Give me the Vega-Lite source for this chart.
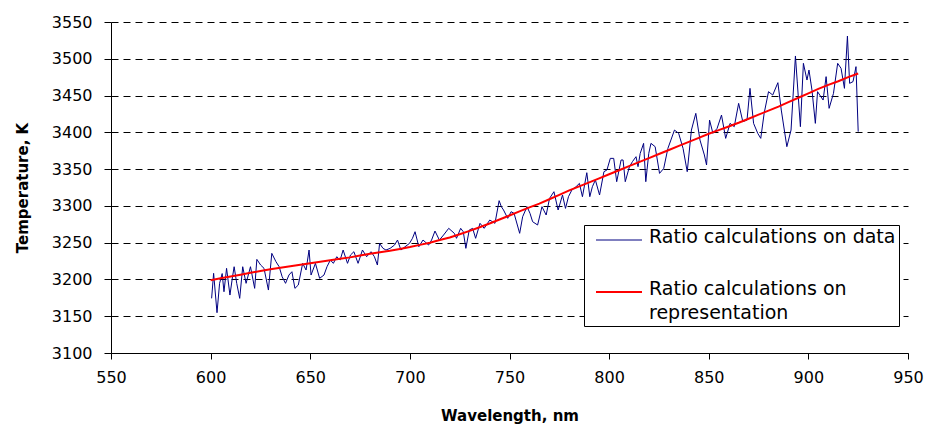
{
  "$schema": "https://vega.github.io/schema/vega-lite/v6.json",
  "width": 797,
  "height": 331,
  "autosize": {"type": "none"},
  "padding": {"left": 111, "top": 22, "right": 21, "bottom": 74},
  "background": "white",
  "config": {"view": {"stroke": null}, "font": "DejaVu Sans"},
  "data": {"values": [
    {"wavelength": 600.5, "temperature": 3174.3, "series": "data"},
    {"wavelength": 601.5, "temperature": 3208.3, "series": "data"},
    {"wavelength": 603.2, "temperature": 3154.8, "series": "data"},
    {"wavelength": 604.5, "temperature": 3194.7, "series": "data"},
    {"wavelength": 605.8, "temperature": 3208.0, "series": "data"},
    {"wavelength": 606.7, "temperature": 3183.3, "series": "data"},
    {"wavelength": 608.0, "temperature": 3215.1, "series": "data"},
    {"wavelength": 609.7, "temperature": 3178.8, "series": "data"},
    {"wavelength": 611.0, "temperature": 3203.7, "series": "data"},
    {"wavelength": 611.8, "temperature": 3217.3, "series": "data"},
    {"wavelength": 613.1, "temperature": 3194.7, "series": "data"},
    {"wavelength": 614.6, "temperature": 3174.3, "series": "data"},
    {"wavelength": 616.1, "temperature": 3217.3, "series": "data"},
    {"wavelength": 617.8, "temperature": 3194.7, "series": "data"},
    {"wavelength": 620.0, "temperature": 3217.3, "series": "data"},
    {"wavelength": 622.1, "temperature": 3187.9, "series": "data"},
    {"wavelength": 623.2, "temperature": 3227.3, "series": "data"},
    {"wavelength": 625.1, "temperature": 3219.6, "series": "data"},
    {"wavelength": 626.8, "temperature": 3215.1, "series": "data"},
    {"wavelength": 629.0, "temperature": 3185.6, "series": "data"},
    {"wavelength": 630.7, "temperature": 3235.5, "series": "data"},
    {"wavelength": 632.8, "temperature": 3224.1, "series": "data"},
    {"wavelength": 634.4, "temperature": 3217.3, "series": "data"},
    {"wavelength": 635.9, "temperature": 3203.7, "series": "data"},
    {"wavelength": 637.6, "temperature": 3194.7, "series": "data"},
    {"wavelength": 639.3, "temperature": 3206.0, "series": "data"},
    {"wavelength": 640.8, "temperature": 3210.5, "series": "data"},
    {"wavelength": 642.3, "temperature": 3187.9, "series": "data"},
    {"wavelength": 644.0, "temperature": 3192.4, "series": "data"},
    {"wavelength": 646.2, "temperature": 3221.9, "series": "data"},
    {"wavelength": 647.9, "temperature": 3212.8, "series": "data"},
    {"wavelength": 649.4, "temperature": 3240.0, "series": "data"},
    {"wavelength": 650.4, "temperature": 3206.0, "series": "data"},
    {"wavelength": 652.6, "temperature": 3221.9, "series": "data"},
    {"wavelength": 654.7, "temperature": 3201.5, "series": "data"},
    {"wavelength": 656.9, "temperature": 3206.0, "series": "data"},
    {"wavelength": 658.4, "temperature": 3217.3, "series": "data"},
    {"wavelength": 660.1, "temperature": 3226.4, "series": "data"},
    {"wavelength": 661.6, "temperature": 3221.9, "series": "data"},
    {"wavelength": 663.3, "temperature": 3230.9, "series": "data"},
    {"wavelength": 665.0, "temperature": 3226.4, "series": "data"},
    {"wavelength": 666.5, "temperature": 3240.0, "series": "data"},
    {"wavelength": 668.7, "temperature": 3221.9, "series": "data"},
    {"wavelength": 670.2, "temperature": 3233.2, "series": "data"},
    {"wavelength": 671.9, "temperature": 3237.7, "series": "data"},
    {"wavelength": 674.0, "temperature": 3221.9, "series": "data"},
    {"wavelength": 676.2, "temperature": 3240.0, "series": "data"},
    {"wavelength": 678.3, "temperature": 3230.9, "series": "data"},
    {"wavelength": 680.5, "temperature": 3237.7, "series": "data"},
    {"wavelength": 682.2, "temperature": 3230.9, "series": "data"},
    {"wavelength": 683.7, "temperature": 3219.6, "series": "data"},
    {"wavelength": 684.8, "temperature": 3249.0, "series": "data"},
    {"wavelength": 686.5, "temperature": 3242.3, "series": "data"},
    {"wavelength": 688.0, "temperature": 3240.0, "series": "data"},
    {"wavelength": 690.1, "temperature": 3242.3, "series": "data"},
    {"wavelength": 692.3, "temperature": 3246.8, "series": "data"},
    {"wavelength": 693.8, "temperature": 3253.6, "series": "data"},
    {"wavelength": 695.5, "temperature": 3240.0, "series": "data"},
    {"wavelength": 697.6, "temperature": 3244.5, "series": "data"},
    {"wavelength": 699.8, "temperature": 3249.0, "series": "data"},
    {"wavelength": 701.3, "temperature": 3255.9, "series": "data"},
    {"wavelength": 702.6, "temperature": 3264.9, "series": "data"},
    {"wavelength": 704.5, "temperature": 3244.5, "series": "data"},
    {"wavelength": 706.6, "temperature": 3253.6, "series": "data"},
    {"wavelength": 709.4, "temperature": 3246.8, "series": "data"},
    {"wavelength": 710.9, "temperature": 3253.6, "series": "data"},
    {"wavelength": 712.6, "temperature": 3265.8, "series": "data"},
    {"wavelength": 714.8, "temperature": 3253.6, "series": "data"},
    {"wavelength": 716.9, "temperature": 3260.4, "series": "data"},
    {"wavelength": 719.5, "temperature": 3269.5, "series": "data"},
    {"wavelength": 722.3, "temperature": 3262.7, "series": "data"},
    {"wavelength": 723.4, "temperature": 3255.9, "series": "data"},
    {"wavelength": 725.5, "temperature": 3269.5, "series": "data"},
    {"wavelength": 726.8, "temperature": 3264.9, "series": "data"},
    {"wavelength": 728.1, "temperature": 3242.3, "series": "data"},
    {"wavelength": 729.8, "temperature": 3267.2, "series": "data"},
    {"wavelength": 731.5, "temperature": 3269.5, "series": "data"},
    {"wavelength": 733.0, "temperature": 3255.9, "series": "data"},
    {"wavelength": 735.2, "temperature": 3276.3, "series": "data"},
    {"wavelength": 737.3, "temperature": 3269.5, "series": "data"},
    {"wavelength": 740.1, "temperature": 3280.8, "series": "data"},
    {"wavelength": 742.7, "temperature": 3276.3, "series": "data"},
    {"wavelength": 744.8, "temperature": 3307.1, "series": "data"},
    {"wavelength": 745.9, "temperature": 3298.9, "series": "data"},
    {"wavelength": 747.0, "temperature": 3294.4, "series": "data"},
    {"wavelength": 749.1, "temperature": 3283.1, "series": "data"},
    {"wavelength": 750.8, "temperature": 3292.1, "series": "data"},
    {"wavelength": 752.3, "temperature": 3289.8, "series": "data"},
    {"wavelength": 755.1, "temperature": 3262.7, "series": "data"},
    {"wavelength": 756.6, "temperature": 3285.3, "series": "data"},
    {"wavelength": 758.8, "temperature": 3298.9, "series": "data"},
    {"wavelength": 760.3, "temperature": 3289.8, "series": "data"},
    {"wavelength": 761.6, "temperature": 3278.5, "series": "data"},
    {"wavelength": 764.1, "temperature": 3274.0, "series": "data"},
    {"wavelength": 766.3, "temperature": 3298.9, "series": "data"},
    {"wavelength": 768.4, "temperature": 3287.6, "series": "data"},
    {"wavelength": 770.1, "temperature": 3310.2, "series": "data"},
    {"wavelength": 772.3, "temperature": 3319.3, "series": "data"},
    {"wavelength": 774.4, "temperature": 3294.4, "series": "data"},
    {"wavelength": 776.6, "temperature": 3314.8, "series": "data"},
    {"wavelength": 778.1, "temperature": 3296.6, "series": "data"},
    {"wavelength": 779.6, "temperature": 3312.5, "series": "data"},
    {"wavelength": 781.3, "temperature": 3321.6, "series": "data"},
    {"wavelength": 783.4, "temperature": 3326.1, "series": "data"},
    {"wavelength": 785.1, "temperature": 3330.6, "series": "data"},
    {"wavelength": 786.6, "temperature": 3312.5, "series": "data"},
    {"wavelength": 788.8, "temperature": 3345.1, "series": "data"},
    {"wavelength": 790.3, "temperature": 3312.5, "series": "data"},
    {"wavelength": 791.6, "temperature": 3326.1, "series": "data"},
    {"wavelength": 793.1, "temperature": 3335.2, "series": "data"},
    {"wavelength": 795.2, "temperature": 3314.8, "series": "data"},
    {"wavelength": 797.4, "temperature": 3346.5, "series": "data"},
    {"wavelength": 798.9, "temperature": 3348.8, "series": "data"},
    {"wavelength": 800.6, "temperature": 3364.6, "series": "data"},
    {"wavelength": 802.3, "temperature": 3364.6, "series": "data"},
    {"wavelength": 803.8, "temperature": 3332.9, "series": "data"},
    {"wavelength": 806.0, "temperature": 3362.4, "series": "data"},
    {"wavelength": 807.0, "temperature": 3362.4, "series": "data"},
    {"wavelength": 808.1, "temperature": 3332.9, "series": "data"},
    {"wavelength": 810.2, "temperature": 3353.3, "series": "data"},
    {"wavelength": 811.7, "temperature": 3360.1, "series": "data"},
    {"wavelength": 813.5, "temperature": 3366.9, "series": "data"},
    {"wavelength": 814.5, "temperature": 3353.3, "series": "data"},
    {"wavelength": 815.6, "temperature": 3371.4, "series": "data"},
    {"wavelength": 817.3, "temperature": 3385.0, "series": "data"},
    {"wavelength": 818.4, "temperature": 3332.9, "series": "data"},
    {"wavelength": 819.9, "temperature": 3371.4, "series": "data"},
    {"wavelength": 821.0, "temperature": 3385.0, "series": "data"},
    {"wavelength": 823.1, "temperature": 3380.5, "series": "data"},
    {"wavelength": 825.3, "temperature": 3344.2, "series": "data"},
    {"wavelength": 827.4, "temperature": 3351.0, "series": "data"},
    {"wavelength": 829.5, "temperature": 3378.2, "series": "data"},
    {"wavelength": 831.0, "temperature": 3389.5, "series": "data"},
    {"wavelength": 832.8, "temperature": 3403.1, "series": "data"},
    {"wavelength": 834.9, "temperature": 3398.6, "series": "data"},
    {"wavelength": 837.1, "temperature": 3378.2, "series": "data"},
    {"wavelength": 839.2, "temperature": 3346.5, "series": "data"},
    {"wavelength": 841.3, "temperature": 3403.1, "series": "data"},
    {"wavelength": 843.5, "temperature": 3425.8, "series": "data"},
    {"wavelength": 845.6, "temperature": 3389.5, "series": "data"},
    {"wavelength": 847.8, "temperature": 3369.2, "series": "data"},
    {"wavelength": 848.9, "temperature": 3355.6, "series": "data"},
    {"wavelength": 850.4, "temperature": 3416.7, "series": "data"},
    {"wavelength": 852.1, "temperature": 3398.6, "series": "data"},
    {"wavelength": 854.2, "temperature": 3405.4, "series": "data"},
    {"wavelength": 856.4, "temperature": 3423.5, "series": "data"},
    {"wavelength": 858.5, "temperature": 3391.8, "series": "data"},
    {"wavelength": 860.7, "temperature": 3412.2, "series": "data"},
    {"wavelength": 862.8, "temperature": 3407.7, "series": "data"},
    {"wavelength": 865.0, "temperature": 3439.4, "series": "data"},
    {"wavelength": 867.1, "temperature": 3414.5, "series": "data"},
    {"wavelength": 869.2, "temperature": 3416.7, "series": "data"},
    {"wavelength": 870.7, "temperature": 3459.8, "series": "data"},
    {"wavelength": 872.5, "temperature": 3412.2, "series": "data"},
    {"wavelength": 874.6, "temperature": 3398.6, "series": "data"},
    {"wavelength": 876.1, "temperature": 3391.8, "series": "data"},
    {"wavelength": 877.8, "temperature": 3425.8, "series": "data"},
    {"wavelength": 880.0, "temperature": 3455.3, "series": "data"},
    {"wavelength": 882.1, "temperature": 3450.7, "series": "data"},
    {"wavelength": 884.7, "temperature": 3467.5, "series": "data"},
    {"wavelength": 886.4, "temperature": 3430.3, "series": "data"},
    {"wavelength": 889.2, "temperature": 3380.5, "series": "data"},
    {"wavelength": 891.3, "temperature": 3403.1, "series": "data"},
    {"wavelength": 893.5, "temperature": 3503.8, "series": "data"},
    {"wavelength": 896.0, "temperature": 3407.7, "series": "data"},
    {"wavelength": 897.5, "temperature": 3493.8, "series": "data"},
    {"wavelength": 899.3, "temperature": 3471.1, "series": "data"},
    {"wavelength": 900.3, "temperature": 3484.7, "series": "data"},
    {"wavelength": 901.8, "temperature": 3457.5, "series": "data"},
    {"wavelength": 903.5, "temperature": 3412.2, "series": "data"},
    {"wavelength": 904.6, "temperature": 3455.3, "series": "data"},
    {"wavelength": 907.4, "temperature": 3443.9, "series": "data"},
    {"wavelength": 908.9, "temperature": 3475.7, "series": "data"},
    {"wavelength": 910.4, "temperature": 3432.6, "series": "data"},
    {"wavelength": 912.6, "temperature": 3453.0, "series": "data"},
    {"wavelength": 914.7, "temperature": 3493.8, "series": "data"},
    {"wavelength": 916.4, "temperature": 3487.0, "series": "data"},
    {"wavelength": 918.1, "temperature": 3459.8, "series": "data"},
    {"wavelength": 919.6, "temperature": 3530.9, "series": "data"},
    {"wavelength": 920.7, "temperature": 3466.6, "series": "data"},
    {"wavelength": 922.4, "temperature": 3468.9, "series": "data"},
    {"wavelength": 923.9, "temperature": 3489.3, "series": "data"},
    {"wavelength": 925.0, "temperature": 3400.9, "series": "data"},
    {"wavelength": 600, "temperature": 3199, "series": "representation"},
    {"wavelength": 605, "temperature": 3201.5, "series": "representation"},
    {"wavelength": 610, "temperature": 3204, "series": "representation"},
    {"wavelength": 615, "temperature": 3206.5, "series": "representation"},
    {"wavelength": 620, "temperature": 3209, "series": "representation"},
    {"wavelength": 625, "temperature": 3211.5, "series": "representation"},
    {"wavelength": 630, "temperature": 3214, "series": "representation"},
    {"wavelength": 635, "temperature": 3216, "series": "representation"},
    {"wavelength": 640, "temperature": 3218, "series": "representation"},
    {"wavelength": 645, "temperature": 3220, "series": "representation"},
    {"wavelength": 650, "temperature": 3222, "series": "representation"},
    {"wavelength": 655, "temperature": 3224, "series": "representation"},
    {"wavelength": 660, "temperature": 3226, "series": "representation"},
    {"wavelength": 665, "temperature": 3228, "series": "representation"},
    {"wavelength": 670, "temperature": 3230, "series": "representation"},
    {"wavelength": 675, "temperature": 3232.5, "series": "representation"},
    {"wavelength": 680, "temperature": 3235, "series": "representation"},
    {"wavelength": 685, "temperature": 3237, "series": "representation"},
    {"wavelength": 690, "temperature": 3239, "series": "representation"},
    {"wavelength": 695, "temperature": 3241.5, "series": "representation"},
    {"wavelength": 700, "temperature": 3244, "series": "representation"},
    {"wavelength": 705, "temperature": 3247, "series": "representation"},
    {"wavelength": 710, "temperature": 3250, "series": "representation"},
    {"wavelength": 715, "temperature": 3253.5, "series": "representation"},
    {"wavelength": 720, "temperature": 3257, "series": "representation"},
    {"wavelength": 725, "temperature": 3261.5, "series": "representation"},
    {"wavelength": 730, "temperature": 3266, "series": "representation"},
    {"wavelength": 735, "temperature": 3271, "series": "representation"},
    {"wavelength": 740, "temperature": 3276, "series": "representation"},
    {"wavelength": 745, "temperature": 3281.5, "series": "representation"},
    {"wavelength": 750, "temperature": 3287, "series": "representation"},
    {"wavelength": 755, "temperature": 3292.5, "series": "representation"},
    {"wavelength": 760, "temperature": 3298, "series": "representation"},
    {"wavelength": 765, "temperature": 3303, "series": "representation"},
    {"wavelength": 770, "temperature": 3309, "series": "representation"},
    {"wavelength": 775, "temperature": 3315, "series": "representation"},
    {"wavelength": 780, "temperature": 3321, "series": "representation"},
    {"wavelength": 785, "temperature": 3326.5, "series": "representation"},
    {"wavelength": 790, "temperature": 3332, "series": "representation"},
    {"wavelength": 795, "temperature": 3337.5, "series": "representation"},
    {"wavelength": 800, "temperature": 3343, "series": "representation"},
    {"wavelength": 805, "temperature": 3348.5, "series": "representation"},
    {"wavelength": 810, "temperature": 3354, "series": "representation"},
    {"wavelength": 815, "temperature": 3359.5, "series": "representation"},
    {"wavelength": 820, "temperature": 3365, "series": "representation"},
    {"wavelength": 825, "temperature": 3370.5, "series": "representation"},
    {"wavelength": 830, "temperature": 3376, "series": "representation"},
    {"wavelength": 835, "temperature": 3381.5, "series": "representation"},
    {"wavelength": 840, "temperature": 3387, "series": "representation"},
    {"wavelength": 845, "temperature": 3392.5, "series": "representation"},
    {"wavelength": 850, "temperature": 3398, "series": "representation"},
    {"wavelength": 855, "temperature": 3403, "series": "representation"},
    {"wavelength": 860, "temperature": 3408, "series": "representation"},
    {"wavelength": 865, "temperature": 3413, "series": "representation"},
    {"wavelength": 870, "temperature": 3418.5, "series": "representation"},
    {"wavelength": 875, "temperature": 3424, "series": "representation"},
    {"wavelength": 880, "temperature": 3429.5, "series": "representation"},
    {"wavelength": 885, "temperature": 3435, "series": "representation"},
    {"wavelength": 890, "temperature": 3441, "series": "representation"},
    {"wavelength": 895, "temperature": 3447, "series": "representation"},
    {"wavelength": 900, "temperature": 3453, "series": "representation"},
    {"wavelength": 905, "temperature": 3459, "series": "representation"},
    {"wavelength": 910, "temperature": 3464.5, "series": "representation"},
    {"wavelength": 915, "temperature": 3469.5, "series": "representation"},
    {"wavelength": 920, "temperature": 3475, "series": "representation"},
    {"wavelength": 925, "temperature": 3480, "series": "representation"}
  ]},
  "mark": {"type": "line", "interpolate": "linear"},
  "encoding": {
    "x": {
      "field": "wavelength",
      "type": "quantitative",
      "scale": {"domain": [550, 950], "nice": false, "zero": false},
      "axis": {
        "values": [550, 600, 650, 700, 750, 800, 850, 900, 950],
        "format": "d",
        "title": "Wavelength, nm",
        "grid": false,
        "domainColor": "black",
        "tickColor": "black",
        "tickSize": 6,
        "labelColor": "black",
        "labelFont": "DejaVu Sans",
        "labelFontSize": 16,
        "labelPadding": 10,
        "labelFlush": false,
        "titleFont": "DejaVu Sans",
        "titleFontSize": 15,
        "titleFontWeight": "bold",
        "titleColor": "black",
        "titleBaseline": "middle",
        "titleY": 62
      }
    },
    "y": {
      "field": "temperature",
      "type": "quantitative",
      "scale": {"domain": [3100, 3550], "nice": false, "zero": false},
      "axis": {
        "values": [3100, 3150, 3200, 3250, 3300, 3350, 3400, 3450, 3500, 3550],
        "format": "d",
        "title": "Temperature, K",
        "grid": true,
        "gridColor": "black",
        "gridDash": [7, 5],
        "gridWidth": 1,
        "domainColor": "black",
        "tickColor": "black",
        "tickSize": 7,
        "labelColor": "black",
        "labelFont": "DejaVu Sans",
        "labelFontSize": 16,
        "labelPadding": 12,
        "labelFlush": false,
        "titleFont": "DejaVu Sans",
        "titleFontSize": 15,
        "titleFontWeight": "bold",
        "titleColor": "black",
        "titleBaseline": "middle",
        "titleX": -89,
        "titleY": 165.5
      }
    },
    "color": {
      "field": "series",
      "type": "nominal",
      "scale": {"domain": ["data", "representation"], "range": ["#000080", "#ff0000"]},
      "legend": {
        "orient": "none",
        "legendX": 473,
        "legendY": 203,
        "title": null,
        "strokeColor": "black",
        "fillColor": "white",
        "padding": 3,
        "symbolOffset": 8,
        "symbolType": "stroke",
        "symbolSize": 2116,
        "symbolStrokeWidth": 1.5,
        "labelFont": "DejaVu Sans",
        "labelFontSize": 19,
        "labelColor": "black",
        "labelLimit": 400,
        "labelOffset": 6,
        "labelBaseline": "top",
        "rowPadding": 33,
        "labelExpr": "datum.value == 'data' ? 'Ratio calculations on data' : ['Ratio calculations on', 'representation']",
        "encode": {
          "labels": {"update": {"lineHeight": {"value": 24}, "y": {"value": 0}}},
          "symbols": {"update": {"y": {"value": 12}, "strokeWidth": {"signal": "datum.value == 'data' ? 1 : 2"}}}
        }
      }
    },
    "strokeWidth": {
      "field": "series",
      "type": "nominal",
      "scale": {"domain": ["data", "representation"], "range": [1, 2]},
      "legend": null
    }
  }
}
